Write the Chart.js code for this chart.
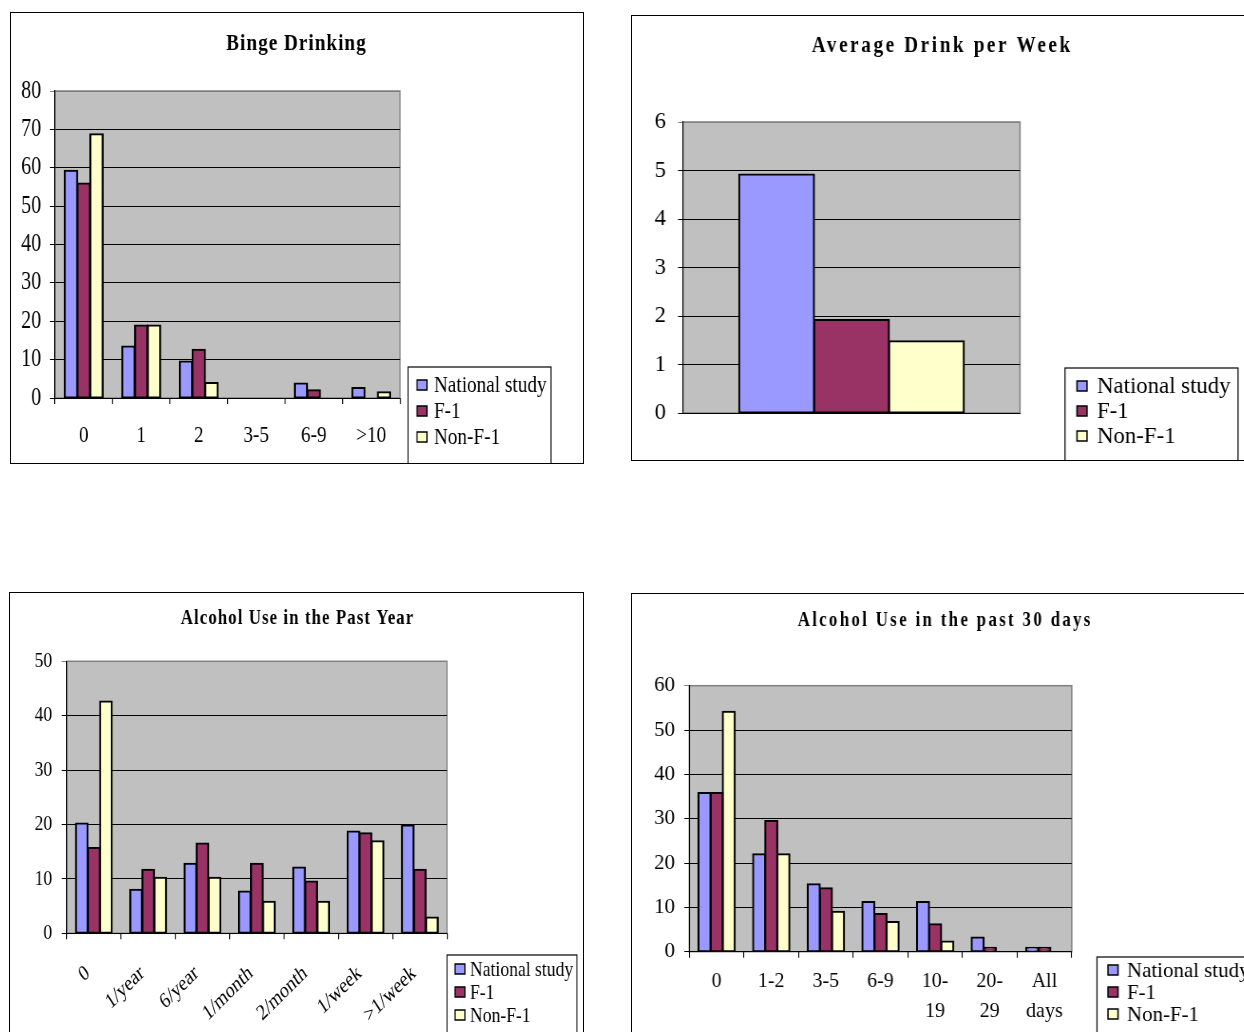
<!DOCTYPE html>
<html>
<head>
<meta charset="utf-8">
<title>Alcohol use comparison</title>
<script src="https://cdn.jsdelivr.net/npm/chart.js@4.4.1/dist/chart.umd.min.js"></script>
<style>
  html, body { margin: 0; padding: 0; background: #fff; width: 1244px; height: 1032px; overflow: hidden; }
  .panel { position: absolute; box-sizing: border-box; border: 1px solid #000; overflow: hidden; background: #fff; }
  .panel canvas { position: absolute; left: 0; top: 0; transform-origin: 0 0; }
</style>
</head>
<body>
<div class="panel" style="left:10px;top:12px;width:574px;height:452px"><canvas id="binge"></canvas></div>
<div class="panel" style="left:631px;top:15px;width:621px;height:446px"><canvas id="weekly"></canvas></div>
<div class="panel" style="left:9px;top:592px;width:575px;height:460px"><canvas id="pastYear"></canvas></div>
<div class="panel" style="left:631px;top:593px;width:627px;height:460px"><canvas id="past30"></canvas></div>
<script>
// Series shared by all four panels
const seriesNames = ['National study', 'F-1', 'Non-F-1'];
const seriesColors = ['#9999FF', '#993366', '#FFFFCC'];

// Binge Drinking (%)
const bingeCategories = ['0', '1', '2', '3-5', '6-9', '>10'];
const bingeNational = [59.2, 13.4, 9.5, 0, 3.8, 2.6];
const bingeF1 = [55.9, 18.9, 12.6, 0, 2.0, 0];
const bingeNonF1 = [68.7, 18.9, 3.9, 0, 0, 1.5];

// Average Drink per Week
const weeklyCategories = [''];
const weeklyNational = [4.92];
const weeklyF1 = [1.92];
const weeklyNonF1 = [1.48];

// Alcohol Use in the Past Year (%)
const pastYearCategories = ['0', '1/year', '6/year', '1/month', '2/month', '1/week', '>1/week'];
const pastYearNational = [20.2, 8.0, 12.8, 7.7, 12.1, 18.7, 19.8];
const pastYearF1 = [15.7, 11.7, 16.5, 12.8, 9.5, 18.4, 11.7];
const pastYearNonF1 = [42.6, 10.2, 10.2, 5.8, 5.8, 16.9, 2.9];

// Alcohol Use in the past 30 days (%)
const past30Categories = ['0', '1-2', '3-5', '6-9', ['10-', '19'], ['20-', '29'], ['All', 'days']];
const past30National = [35.8, 22.0, 15.2, 11.2, 11.2, 3.2, 0.9];
const past30F1 = [35.8, 29.5, 14.3, 8.5, 6.2, 0.9, 0.9];
const past30NonF1 = [54.1, 22.0, 9.0, 6.7, 2.3, 0, 0];

// Axis tick settings
const bingeAxis = { max: 80, step: 10 };
const weeklyAxis = { max: 6, step: 1 };
const pastYearAxis = { max: 50, step: 10 };
const past30Axis = { max: 60, step: 10 };

const SERIF = "'Liberation Serif', 'Times New Roman', serif";
const TITLE_CONDENSE = 0.8; // titles use a narrow, tracked bold face

// Grey plot background, frame, title and boxed legend
const panelDecor = {
  id: 'panelDecor',
  beforeDraw(chart) {
    const { ctx, chartArea: a } = chart;
    ctx.save();
    ctx.fillStyle = '#C0C0C0';
    ctx.fillRect(a.left, a.top, a.right - a.left, a.bottom - a.top);
    ctx.strokeStyle = '#808080';
    ctx.lineWidth = 1.5;
    ctx.strokeRect(a.left, a.top, a.right - a.left, a.bottom - a.top);
    ctx.restore();
  },
  afterDraw(chart, args, o) {
    const ctx = chart.ctx;
    const s = o.squeeze;
    // title
    const t = o.title;
    ctx.save();
    ctx.translate(t.x / s, 0);
    ctx.scale(TITLE_CONDENSE / s, 1);
    ctx.font = 'bold ' + t.size + 'px ' + SERIF;
    const track = t.spacing / TITLE_CONDENSE;
    ctx.letterSpacing = track + 'px';
    ctx.fillStyle = '#000';
    ctx.textAlign = 'center';
    ctx.textBaseline = 'alphabetic';
    ctx.fillText(t.text, track / 2, t.y);
    ctx.restore();
    // legend
    const L = o.legend;
    ctx.save();
    ctx.fillStyle = '#fff';
    ctx.fillRect(L.x / s, L.y, L.w / s, L.h);
    ctx.strokeStyle = '#000';
    ctx.lineWidth = 1.2;
    ctx.strokeRect(L.x / s, L.y, L.w / s, L.h);
    ctx.font = L.size + 'px ' + SERIF;
    ctx.textAlign = 'left';
    ctx.textBaseline = 'middle';
    chart.data.datasets.forEach((ds, i) => {
      const cy = L.row0 + i * L.rowGap;
      ctx.fillStyle = ds.backgroundColor;
      ctx.fillRect(L.markX / s, cy - L.mark / 2, L.mark / s, L.mark);
      ctx.lineWidth = 1.5;
      ctx.strokeStyle = '#000';
      ctx.strokeRect(L.markX / s, cy - L.mark / 2, L.mark / s, L.mark);
      ctx.fillStyle = '#000';
      ctx.fillText(ds.label, L.textX / s, cy + 1);
    });
    ctx.restore();
  }
};

function buildPanel(spec) {
  const s = spec.squeeze;
  const canvas = document.getElementById(spec.id);
  const W = Math.round(spec.w / s);
  canvas.width = W;
  canvas.height = spec.h;
  canvas.style.width = W + 'px';
  canvas.style.height = spec.h + 'px';
  canvas.style.transform = 'scaleX(' + s + ')';
  const p = spec.plot;
  const values = [spec.national, spec.f1, spec.nonF1];
  const edge = { top: 2, bottom: 2, left: 2 / s, right: 2 / s };
  const datasets = seriesNames.map((name, i) => ({
    label: name,
    data: values[i],
    backgroundColor: seriesColors[i],
    borderColor: '#000',
    borderWidth: (c) => (c.raw === 0 ? 0 : edge),
    inflateAmount: (c) => (c.raw === 0 ? 0 : 1),
    borderSkipped: false,
    barPercentage: 1,
    categoryPercentage: 0.667
  }));
  return new Chart(canvas, {
    type: 'bar',
    data: { labels: spec.categories, datasets },
    plugins: [panelDecor],
    options: {
      responsive: false,
      devicePixelRatio: 1,
      animation: false,
      events: [],
      layout: {
        autoPadding: false,
        padding: { top: p.t, left: 0, bottom: 0, right: W - p.r / s }
      },
      plugins: {
        legend: { display: false },
        title: { display: false },
        tooltip: { enabled: false },
        panelDecor: { squeeze: s, title: spec.title, legend: spec.legend }
      },
      scales: {
        x: {
          offset: true,
          grid: {
            offset: true, drawOnChartArea: false, drawTicks: spec.xTicks,
            tickLength: 6, color: '#000', lineWidth: 1 / s
          },
          border: { color: '#000', width: 1 },
          ticks: {
            display: spec.xLabels,
            color: '#000',
            autoSkip: false,
            minRotation: spec.rotation,
            maxRotation: spec.rotation,
            labelOffset: spec.xShift / s,
            padding: spec.xPad,
            font: { family: SERIF, size: spec.xFont, lineHeight: spec.xLineHeight }
          },
          afterFit(scale) { scale.height = spec.h - p.b; }
        },
        y: {
          min: 0,
          max: spec.axis.max,
          grid: {
            color: (c) => (c.tick && c.tick.value === spec.axis.max) ? '#808080' : '#000',
            lineWidth: 1,
            drawTicks: true,
            tickLength: 5 / s
          },
          border: { color: '#000', width: 1 / s },
          ticks: {
            stepSize: spec.axis.step,
            color: '#000',
            padding: spec.yPad / s,
            font: { family: SERIF, size: spec.yFont }
          },
          afterFit(scale) { scale.width = p.l / s; }
        }
      }
    }
  });
}

buildPanel({
  id: 'binge', w: 572, h: 450, squeeze: 0.8,
  plot: { l: 44, r: 389, t: 78, b: 385 },
  categories: bingeCategories, national: bingeNational, f1: bingeF1, nonF1: bingeNonF1,
  axis: bingeAxis,
  title: { text: 'Binge Drinking', size: 24, spacing: 1.0, x: 285, y: 37 },
  yFont: 25, yPad: 8.8,
  xFont: 24, xPad: 17, xLineHeight: 1.2, rotation: 0, xShift: 0, xTicks: true, xLabels: true,
  legend: { x: 397, y: 354, w: 143, h: 110, row0: 372, rowGap: 26, mark: 10, markX: 406, textX: 423, size: 24 }
});

buildPanel({
  id: 'weekly', w: 619, h: 444, squeeze: 0.95,
  plot: { l: 51, r: 388, t: 106, b: 397 },
  categories: weeklyCategories, national: weeklyNational, f1: weeklyF1, nonF1: weeklyNonF1,
  axis: weeklyAxis,
  title: { text: 'Average Drink per Week', size: 24, spacing: 2.6, x: 309, y: 36 },
  yFont: 24, yPad: 12,
  xFont: 22, xPad: 10, xLineHeight: 1.2, rotation: 0, xShift: 0, xTicks: false, xLabels: false,
  legend: { x: 433, y: 352, w: 173, h: 110, row0: 370, rowGap: 25, mark: 10, markX: 445, textX: 465, size: 24 }
});

buildPanel({
  id: 'pastYear', w: 573, h: 458, squeeze: 0.8,
  plot: { l: 56.7, r: 437, t: 68.3, b: 340.3 },
  categories: pastYearCategories, national: pastYearNational, f1: pastYearF1, nonF1: pastYearNonF1,
  axis: pastYearAxis,
  title: { text: 'Alcohol Use in the Past Year', size: 21, spacing: 1.09, x: 287, y: 31 },
  yFont: 22, yPad: 9.6,
  xFont: 22, xPad: 21, xLineHeight: 1.2, rotation: 38.66, xShift: -6, xTicks: true, xLabels: true,
  legend: { x: 437, y: 362, w: 130, h: 110, row0: 376, rowGap: 23, mark: 10, markX: 445, textX: 460, size: 22 }
});

buildPanel({
  id: 'past30', w: 625, h: 458, squeeze: 0.95,
  plot: { l: 57.3, r: 439.7, t: 91.7, b: 357.7 },
  categories: past30Categories, national: past30National, f1: past30F1, nonF1: past30NonF1,
  axis: past30Axis,
  title: { text: 'Alcohol Use in the past 30 days', size: 21, spacing: 2.35, x: 312, y: 32 },
  yFont: 22, yPad: 9.3,
  xFont: 21, xPad: 9, xLineHeight: 1.43, rotation: 0, xShift: 0, xTicks: true, xLabels: true,
  legend: { x: 465, y: 363, w: 170, h: 110, row0: 376, rowGap: 22, mark: 10, markX: 476, textX: 495, size: 22 }
});
</script>
</body>
</html>
